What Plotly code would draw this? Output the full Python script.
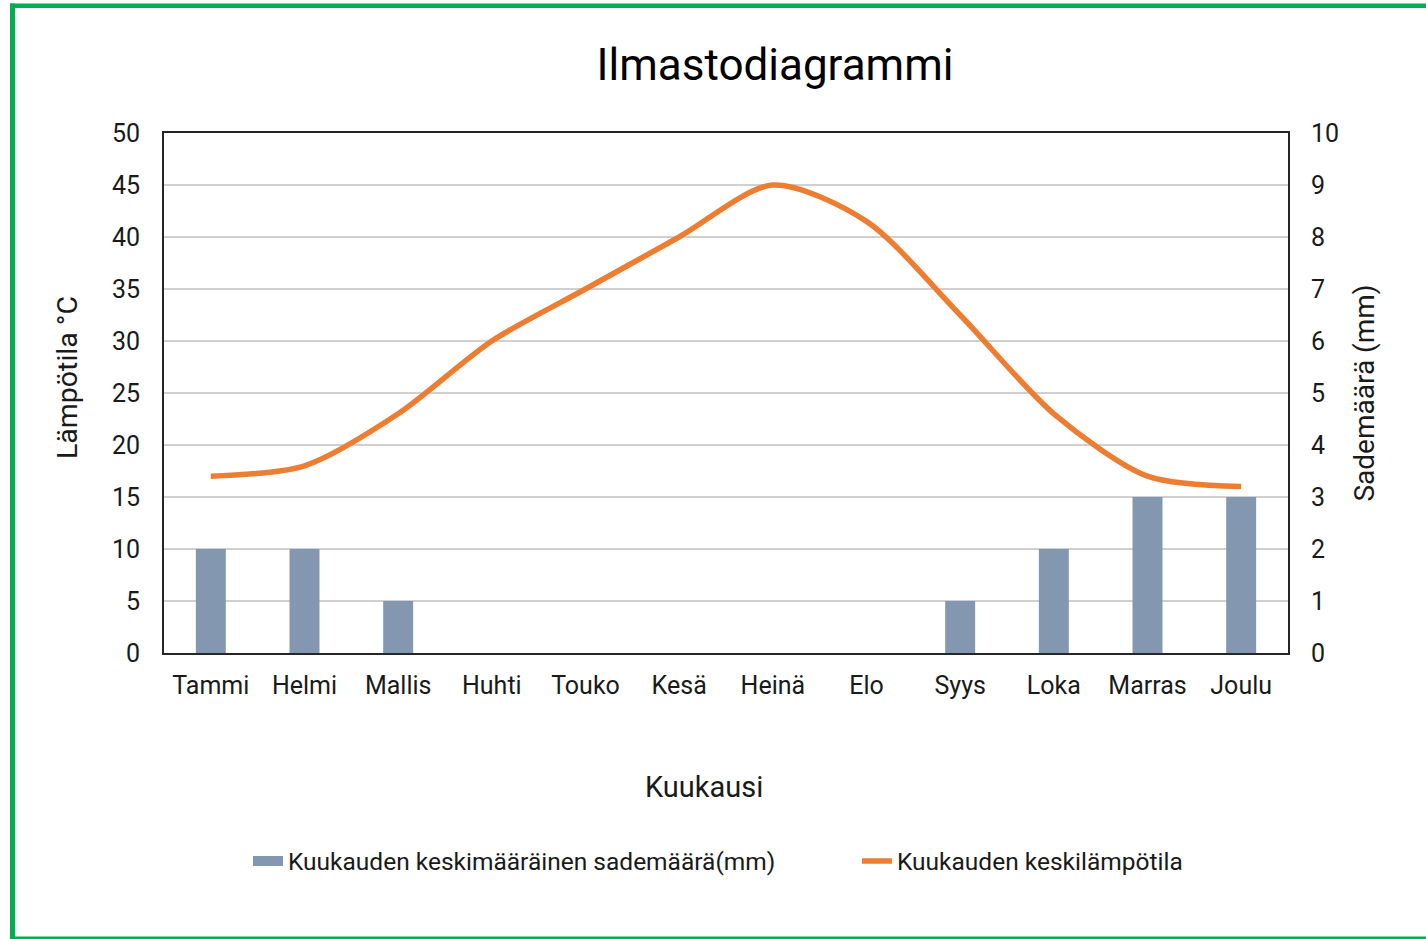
import plotly.graph_objects as go

months = ["Tammi", "Helmi", "Mallis", "Huhti", "Touko", "Kesä",
          "Heinä", "Elo", "Syys", "Loka", "Marras", "Joulu"]
rain_mm = [2, 2, 1, 0, 0, 0, 0, 0, 1, 2, 3, 3]
temp_c = [17, 18, 23, 30, 35, 40, 45, 41.5, 32.5, 23, 17, 16]

rain_name = "Kuukauden keskimääräinen sademäärä(mm)"
temp_name = "Kuukauden keskilämpötila"

W, H = 1426, 939
PX0, PX1, PY0, PY1 = 164, 1288, 133, 653  # plot area in pixels


def px(x):
    return (x - PX0) / (PX1 - PX0)


def py(y):
    return (PY1 - y) / (PY1 - PY0)


FONT = "Roboto"
GREEN = "#00b050"
BAR_C = "#8497b0"
LINE_C = "#ed7d31"
TXT = "#1a1a1a"

fig = go.Figure()
fig.add_trace(go.Bar(
    x=months, y=rain_mm, yaxis="y2",
    name=rain_name, showlegend=False,
    marker=dict(color=BAR_C, line=dict(width=0)),
    width=0.32,
))
# legend key for the bars (wide swatch like the original)
fig.add_trace(go.Scatter(
    x=[None], y=[None], mode="lines", name=rain_name,
    line=dict(color=BAR_C, width=14), legend="legend",
))
fig.add_trace(go.Scatter(
    x=months, y=temp_c, yaxis="y",
    mode="lines", name=temp_name, legend="legend2",
    line=dict(color=LINE_C, width=5.5, shape="spline", smoothing=0.8),
))

axis_line = dict(showline=True, linecolor="#262626", linewidth=2)
leg_common = dict(
    orientation="h", yanchor="middle", xanchor="left",
    font=dict(size=24.5, color=TXT, family=FONT),
    bgcolor="rgba(0,0,0,0)", itemwidth=30,
)

fig.update_layout(
    width=W, height=H,
    autosize=False,
    margin=dict(l=PX0, r=W - PX1, t=PY0, b=H - PY1),
    paper_bgcolor="white", plot_bgcolor="white",
    font=dict(family=FONT, color=TXT, size=24),
    showlegend=True,
    xaxis=dict(
        type="category", **axis_line, mirror=True,
        ticks="", tickfont=dict(size=25, color=TXT),
        ticklabelstandoff=9,
        showgrid=False,
    ),
    yaxis=dict(
        range=[0, 50], dtick=5, tick0=0,
        **axis_line, mirror=True,
        ticks="", tickfont=dict(size=25, color=TXT),
        ticklabelstandoff=17,
        showgrid=True, gridcolor="#d0d0d0", gridwidth=2,
        zeroline=False,
    ),
    yaxis2=dict(
        range=[0, 10], dtick=1, tick0=0,
        overlaying="y", side="right",
        showline=False, ticks="",
        tickfont=dict(size=25, color=TXT),
        ticklabelstandoff=22,
        showgrid=False, zeroline=False,
        title=dict(text="Sademäärä (mm)", font=dict(size=28, color=TXT), standoff=16),
    ),
    legend=dict(x=px(248), y=py(861), **leg_common),
    legend2=dict(x=px(857), y=py(861), **leg_common),
    title=dict(
        text="Ilmastodiagrammi",
        x=775 / W, xanchor="center", xref="container",
        y=1 - 65 / H, yanchor="middle", yref="container",
        font=dict(size=44, color="#000000", family=FONT),
    ),
    annotations=[
        dict(text="Kuukausi", xref="paper", yref="paper",
             x=px(704), y=py(787), xanchor="center", yanchor="middle",
             showarrow=False, font=dict(size=29, color=TXT, family=FONT)),
        dict(text="Lämpötila °C", xref="paper", yref="paper",
             x=px(67), y=py(378), xanchor="center", yanchor="middle",
             textangle=-90,
             showarrow=False, font=dict(size=28.5, color=TXT, family=FONT)),
    ],
    shapes=[
        # green frame around the page (top, left, bottom)
        dict(type="rect", xref="paper", yref="paper",
             x0=px(10), x1=px(W + 5), y0=py(8), y1=py(3.5),
             fillcolor=GREEN, line=dict(width=0), layer="above"),
        dict(type="rect", xref="paper", yref="paper",
             x0=px(10), x1=px(15), y0=py(H + 5), y1=py(3.5),
             fillcolor=GREEN, line=dict(width=0), layer="above"),
        dict(type="rect", xref="paper", yref="paper",
             x0=px(10), x1=px(W + 5), y0=py(H + 5), y1=py(936.5),
             fillcolor=GREEN, line=dict(width=0), layer="above"),
    ],
)

fig.write_html(
    "out.html",
    config={"displayModeBar": False},
    post_script="document.body.style.margin='0';document.body.style.overflow='hidden';",
)
